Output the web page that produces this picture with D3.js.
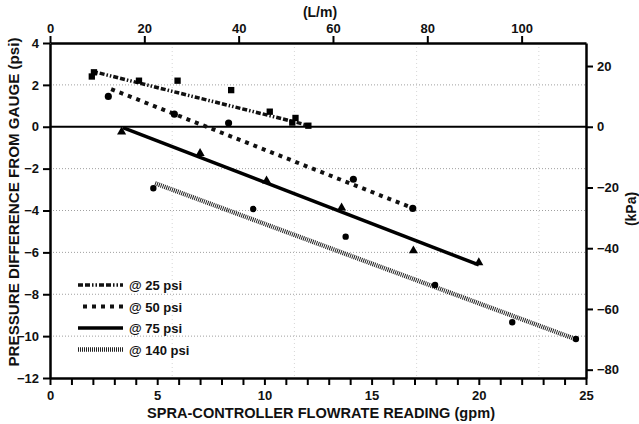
<!DOCTYPE html>
<html>
<head>
<meta charset="utf-8">
<script src="https://cdn.jsdelivr.net/npm/d3@7"></script>
<style>
  body { margin: 0; background: #fff; }
  svg { display: block; font-family: "Liberation Sans", Arial, sans-serif; }
</style>
</head>
<body>
<div id="chart"></div>
<script>
// Readings: flowrate (gpm) and pressure difference (psi) for each line pressure
const flow25 = [1.95, 2.05, 4.15, 5.95, 8.45, 10.25, 11.3, 11.45, 12.05];
const diff25 = [2.4, 2.6, 2.2, 2.2, 1.75, 0.72, 0.2, 0.42, 0.05];
const fit25 = [[2.0, 2.64], [12.0, 0.08]];

const flow50 = [2.72, 5.8, 8.33, 14.15, 16.92];
const diff50 = [1.45, 0.6, 0.18, -2.51, -3.9];
const fit50 = [[2.85, 1.8], [16.9, -3.88]];

const flow75 = [3.34, 7.0, 10.1, 13.6, 16.95, 20.0];
const diff75 = [-0.24, -1.27, -2.58, -3.87, -5.92, -6.49];
const fit75 = [[3.4, -0.04], [20.0, -6.6]];

const flow140 = [4.82, 9.48, 13.79, 17.96, 21.56, 24.53];
const diff140 = [-2.94, -3.93, -5.25, -7.56, -9.34, -10.14];
const fit140 = [[4.9, -2.7], [24.5, -10.14]];

const seriesNames = ["@ 25 psi", "@ 50 psi", "@ 75 psi", "@ 140 psi"];

// Tick values
const psiTicks = [4, 2, 0, -2, -4, -6, -8, -10, -12];
const kpaTicks = [20, 0, -20, -40, -60, -80];
const lpmTicks = [0, 20, 40, 60, 80, 100];
const gpmTicks = d3.range(0, 26);
const gridPsi = [2, -2, -4, -6, -8, -10];
const gridGpm = [5.7, 11.4, 17.1, 22.8];

const LPM_PER_GPM = 4.546;
const KPA_PER_PSI = 6.895;

const margin = { top: 43, right: 53, bottom: 46, left: 50 };
const outerWidth = 639;
const outerHeight = 424;
const width = outerWidth - margin.left - margin.right;
const height = outerHeight - margin.top - margin.bottom;

const svg = d3.select("#chart")
  .append("svg")
  .attr("width", outerWidth)
  .attr("height", outerHeight);

const g = svg.append("g")
  .attr("transform", `translate(${margin.left}, ${margin.top})`);

const xScale = d3.scaleLinear().domain([0, 25]).range([0, width]);
const yScale = d3.scaleLinear().domain([4, -12]).range([0, height]);
const xTopScale = d3.scaleLinear().domain([0, 25 * LPM_PER_GPM]).range([0, width]);
const yRightScale = d3.scaleLinear().domain([4 * KPA_PER_PSI, -12 * KPA_PER_PSI]).range([0, height]);

// Dotted grid
g.selectAll(".hgrid")
  .data(gridPsi)
  .enter()
  .append("line")
  .attr("class", "hgrid")
  .attr("x1", 0)
  .attr("x2", width)
  .attr("y1", d => yScale(d))
  .attr("y2", d => yScale(d))
  .style("stroke", "#888")
  .style("stroke-width", 0.8)
  .style("stroke-dasharray", "1,2");

g.selectAll(".vgrid")
  .data(gridGpm)
  .enter()
  .append("line")
  .attr("class", "vgrid")
  .attr("x1", d => xScale(d))
  .attr("x2", d => xScale(d))
  .attr("y1", 0)
  .attr("y2", height)
  .style("stroke", "#ccc")
  .style("stroke-width", 0.8)
  .style("stroke-dasharray", "1,3");

// Zero line
g.append("line")
  .attr("x1", 0)
  .attr("x2", width)
  .attr("y1", yScale(0))
  .attr("y2", yScale(0))
  .style("stroke", "#000")
  .style("stroke-width", 2);

const series = [
  { name: seriesNames[0], flow: flow25, diff: diff25, fit: fit25, symbol: d3.symbolSquare, size: 40, dash: "5,2,5,2,1.5,2,1.5,2", lw: 3.5, color: "#111" },
  { name: seriesNames[1], flow: flow50, diff: diff50, fit: fit50, symbol: d3.symbolCircle, size: 40, dash: "4,5", lw: 4, color: "#111" },
  { name: seriesNames[2], flow: flow75, diff: diff75, fit: fit75, symbol: d3.symbolTriangle, size: 36, dash: null, lw: 3.5, color: "#000" },
  { name: seriesNames[3], flow: flow140, diff: diff140, fit: fit140, symbol: d3.symbolCircle, size: 32, dash: "1,1", lw: 4.5, color: "#222" }
];

const line = d3.line()
  .x(d => xScale(d[0]))
  .y(d => yScale(d[1]));

series.forEach(function (s) {
  g.append("path")
    .datum(s.fit)
    .attr("d", line)
    .style("fill", "none")
    .style("stroke", s.color)
    .style("stroke-width", s.lw)
    .style("stroke-dasharray", s.dash);

  g.selectAll(null)
    .data(s.flow.map((f, i) => [f, s.diff[i]]))
    .enter()
    .append("path")
    .attr("d", d3.symbol().type(s.symbol).size(s.size))
    .attr("transform", d => `translate(${xScale(d[0])}, ${yScale(d[1])})`)
    .style("fill", "#000");
});

// Axes
const tickFont = "13px";

function styleAxis(sel) {
  sel.select(".domain").style("stroke", "#000").style("stroke-width", 2.5);
  sel.selectAll(".tick line").style("stroke", "#000").style("stroke-width", 2);
  sel.selectAll(".tick text")
    .style("font-size", tickFont)
    .style("font-weight", "bold")
    .attr("fill", "#111");
}

g.append("g")
  .attr("transform", `translate(0, ${height})`)
  .call(d3.axisBottom(xScale)
    .tickValues(gpmTicks)
    .tickSize(7)
    .tickSizeOuter(0)
    .tickPadding(6)
    .tickFormat(d => d % 5 === 0 ? d : ""))
  .call(styleAxis);

g.append("g")
  .call(d3.axisTop(xTopScale)
    .tickValues(lpmTicks)
    .tickSize(7)
    .tickSizeOuter(0)
    .tickPadding(3))
  .call(styleAxis);

g.append("g")
  .call(d3.axisLeft(yScale)
    .tickValues(psiTicks)
    .tickSize(7)
    .tickSizeOuter(0)
    .tickPadding(4))
  .call(styleAxis);

g.append("g")
  .attr("transform", `translate(${width}, 0)`)
  .call(d3.axisRight(yRightScale)
    .tickValues(kpaTicks)
    .tickSize(7)
    .tickSizeOuter(0)
    .tickPadding(4))
  .call(styleAxis);

// Axis titles
svg.append("text")
  .attr("x", 321)
  .attr("y", 418)
  .attr("text-anchor", "middle")
  .attr("textLength", 348)
  .attr("lengthAdjust", "spacingAndGlyphs")
  .style("font-size", "14px")
  .style("font-weight", "bold")
  .attr("fill", "#111")
  .text("SPRA-CONTROLLER FLOWRATE READING (gpm)");

svg.append("text")
  .attr("transform", "translate(19, 202) rotate(-90)")
  .attr("text-anchor", "middle")
  .attr("textLength", 329)
  .attr("lengthAdjust", "spacingAndGlyphs")
  .style("font-size", "14px")
  .style("font-weight", "bold")
  .attr("fill", "#111")
  .text("PRESSURE DIFFERENCE FROM GAUGE (psi)");

svg.append("text")
  .attr("x", 320)
  .attr("y", 17)
  .attr("text-anchor", "middle")
  .style("font-size", "14px")
  .style("font-weight", "bold")
  .attr("fill", "#111")
  .text("(L/m)");

svg.append("text")
  .attr("transform", "translate(636, 209) rotate(-90)")
  .attr("text-anchor", "middle")
  .style("font-size", "14px")
  .style("font-weight", "bold")
  .attr("fill", "#111")
  .text("(kPa)");

// Legend
const legend = svg.append("g")
  .attr("transform", "translate(78, 285)");

const legendRows = legend.selectAll(".legend-row")
  .data(series)
  .enter()
  .append("g")
  .attr("class", "legend-row")
  .attr("transform", (d, i) => `translate(0, ${i * 21.5})`);

legendRows.append("line")
  .attr("x1", (d, i) => i === 1 ? 5 : 0)
  .attr("x2", 45)
  .attr("y1", 0)
  .attr("y2", 0)
  .style("stroke", d => d.color)
  .style("stroke-width", d => d.lw)
  .style("stroke-dasharray", d => d.dash);

legendRows.append("text")
  .attr("x", 51)
  .attr("y", 5)
  .style("font-size", "13px")
  .style("font-weight", "bold")
  .attr("fill", "#111")
  .text(d => d.name);
</script>
</body>
</html>
